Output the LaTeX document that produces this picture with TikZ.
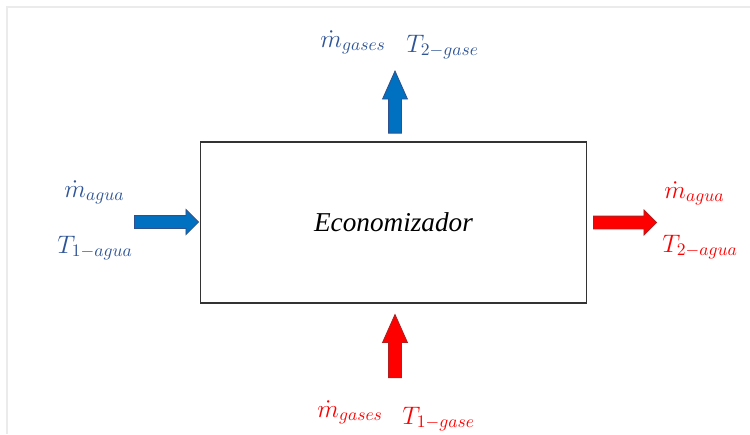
\documentclass[tikz,border=0pt]{standalone}
\usepackage{fontspec}
\setmainfont{Liberation Serif}
\usetikzlibrary{shapes.arrows}
\definecolor{frio}{HTML}{0070C0}
\definecolor{frioborde}{HTML}{2F528F}
\definecolor{friotxt}{HTML}{2F5597}
\definecolor{caliente}{HTML}{FF0000}
\definecolor{calborde}{HTML}{B02020}
\definecolor{marco}{HTML}{EBEBEB}

\begin{document}
\begin{tikzpicture}[x=0.02cm,y=-0.02cm,
    flecha/.style={single arrow,inner sep=0.12cm,single arrow head extend=0.12cm,
      single arrow head indent=0pt,line width=0.5pt,anchor=tail},
    fria/.style={flecha,fill=frio,draw=frioborde},
    cal/.style={flecha,fill=caliente,draw=calborde},
    etq/.style={anchor=base west,inner sep=0pt,font=\fontsize{14}{16}\selectfont}]
  \useasboundingbox (0,0) rectangle (750,434);
  % marco tenue
  \draw[marco,line width=0.8pt] (7,434) -- (7,7) -- (750,7);

  % equipo
  \node[draw=black!80,line width=0.6pt,minimum width=7.74cm,minimum height=3.22cm,
    font=\fontsize{15.5}{18}\selectfont\itshape] (eco) at (393.5,222.5) {Economizador};

  % flujos de agua
  \node[fria,single arrow tip angle=90,minimum height=1.28cm] (aguaIn) at (134,222) {};
  \node[cal,single arrow tip angle=90,minimum height=1.26cm] (aguaOut) at (593,222.5) {};
  % flujos de gases
  \node[fria,rotate=90,single arrow tip angle=48,minimum height=1.24cm] (gasOut) at (395,133.5) {};
  \node[cal,rotate=90,single arrow tip angle=48,minimum height=1.26cm] (gasIn) at (395,378) {};

  % etiquetas
  \node[etq,text=friotxt] (mAguaIn) at (64,197) {$\dot{m}_{agua}$};
  \node[etq,text=friotxt] (tAguaIn) at (57,253) {$T_{1-agua}$};
  \node[etq,text=caliente] (mAguaOut) at (664,198) {$\dot{m}_{agua}$};
  \node[etq,text=caliente] (tAguaOut) at (662,252) {$T_{2-agua}$};
  \node[etq,text=friotxt] (mGasOut) at (320,47) {$\dot{m}_{gases}$};
  \node[etq,text=friotxt] (tGasOut) at (406,52) {$T_{2-gase}$};
  \node[etq,text=caliente] (mGasIn) at (317,417) {$\dot{m}_{gases}$};
  \node[etq,text=caliente] (tGasIn) at (402,424) {$T_{1-gase}$};
\end{tikzpicture}
\end{document}
